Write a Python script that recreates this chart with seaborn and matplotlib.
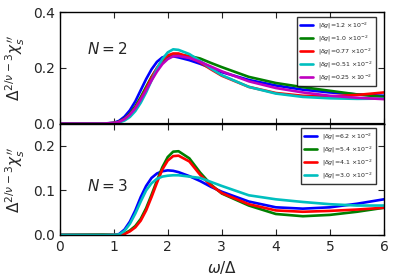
import matplotlib
matplotlib.use("Agg")
import matplotlib.pyplot as plt
import seaborn as sns
import numpy as np
import pandas as pd

# ----------- Data -----------
omega = [0.0, 0.8, 1.0, 1.1, 1.2, 1.3, 1.4, 1.5, 1.6, 1.7, 1.8, 1.9, 2.0,
         2.1, 2.2, 2.4, 2.6, 2.8, 3.0, 3.5, 4.0, 4.5, 5.0, 5.5, 6.0]

# N = 2 panel
labels_n2 = [r'$|\delta g|$=1.2 $\times10^{-2}$', r'$|\delta g|$=1.0 $\times10^{-2}$',
             r'$|\delta g|$=0.77 $\times10^{-2}$', r'$|\delta g|$=0.51 $\times10^{-2}$',
             r'$|\delta g|$=0.25 $\times10^{-2}$']
chi_n2_12 = [0, 0, 0.003, 0.010, 0.025, 0.048, 0.080, 0.120, 0.160, 0.195, 0.222, 0.238, 0.243,
             0.242, 0.238, 0.228, 0.215, 0.200, 0.185, 0.157, 0.137, 0.122, 0.112, 0.105, 0.100]
chi_n2_10 = [0, 0, 0.002, 0.007, 0.018, 0.036, 0.062, 0.095, 0.132, 0.168, 0.198, 0.222, 0.237,
             0.244, 0.246, 0.243, 0.234, 0.218, 0.203, 0.168, 0.146, 0.131, 0.118, 0.105, 0.096]
chi_n2_077 = [0, 0, 0.002, 0.006, 0.016, 0.032, 0.056, 0.088, 0.125, 0.165, 0.200, 0.228, 0.245,
              0.252, 0.252, 0.240, 0.220, 0.195, 0.172, 0.132, 0.110, 0.100, 0.098, 0.103, 0.112]
chi_n2_051 = [0, 0, 0.001, 0.004, 0.011, 0.024, 0.045, 0.075, 0.112, 0.155, 0.197, 0.232, 0.256,
              0.267, 0.265, 0.250, 0.225, 0.198, 0.174, 0.132, 0.108, 0.096, 0.091, 0.089, 0.090]
chi_n2_025 = [0, 0, 0.002, 0.006, 0.016, 0.032, 0.055, 0.086, 0.120, 0.155, 0.187, 0.214, 0.232,
              0.242, 0.243, 0.236, 0.222, 0.205, 0.188, 0.152, 0.128, 0.112, 0.100, 0.093, 0.088]

# N = 3 panel
labels_n3 = [r'$|\delta g|$=6.2 $\times10^{-2}$', r'$|\delta g|$=5.4 $\times10^{-2}$',
             r'$|\delta g|$=4.1 $\times10^{-2}$', r'$|\delta g|$=3.0 $\times10^{-2}$']
chi_n3_62 = [0, 0, 0, 0.002, 0.012, 0.030, 0.055, 0.085, 0.110, 0.128, 0.138, 0.143, 0.145,
             0.144, 0.141, 0.132, 0.121, 0.108, 0.097, 0.075, 0.062, 0.059, 0.062, 0.070, 0.080]
chi_n3_54 = [0, 0.001, 0, 0, 0.003, 0.010, 0.020, 0.036, 0.060, 0.090, 0.122, 0.152, 0.175,
             0.187, 0.188, 0.172, 0.140, 0.113, 0.093, 0.066, 0.047, 0.042, 0.045, 0.052, 0.061]
chi_n3_41 = [0, 0, 0, 0, 0.002, 0.008, 0.017, 0.032, 0.055, 0.085, 0.117, 0.147, 0.167,
             0.177, 0.178, 0.165, 0.135, 0.111, 0.094, 0.069, 0.055, 0.052, 0.054, 0.057, 0.061]
chi_n3_30 = [0, 0, 0, 0.001, 0.009, 0.025, 0.048, 0.075, 0.100, 0.116, 0.126, 0.131, 0.133,
             0.134, 0.134, 0.131, 0.128, 0.119, 0.110, 0.089, 0.080, 0.074, 0.069, 0.066, 0.066]

colors_n2 = ['#0000ff', '#008000', '#ff0000', '#00bfbf', '#bf00bf']
colors_n3 = ['#0000ff', '#008000', '#ff0000', '#00bfbf']


def long_table(series, labels):
    frames = []
    for vals, lab in zip(series, labels):
        frames.append(pd.DataFrame({'omega': omega, 'chi': vals, 'dg': lab}))
    return pd.concat(frames, ignore_index=True)


df2 = long_table([chi_n2_12, chi_n2_10, chi_n2_077, chi_n2_051, chi_n2_025], labels_n2)
df3 = long_table([chi_n3_62, chi_n3_54, chi_n3_41, chi_n3_30], labels_n3)

# ----------- Plot -----------
sns.set_style("ticks")
plt.rcParams.update({
    'xtick.direction': 'in', 'ytick.direction': 'in',
    'xtick.top': True, 'ytick.right': True,
    'axes.edgecolor': 'black', 'axes.linewidth': 1.0,
})
plt.rcParams['font.family'] = ['DejaVu Sans']

fig, (ax1, ax2) = plt.subplots(2, 1, figsize=(3.95, 2.8), dpi=100, sharex=True)
fig.subplots_adjust(left=0.151, right=0.972, top=0.956, bottom=0.161, hspace=0)

ylab = r'$\Delta^{2/\nu-3}\chi_s^{\,\prime\prime}$'

ax1.axhline(0, color='black', linewidth=1.6, zorder=3)
sns.lineplot(data=df2, x='omega', y='chi', hue='dg', palette=colors_n2,
             linewidth=1.9, ax=ax1)
ax1.set_xlim(0, 6)
ax1.set_ylim(0, 0.4)
ax1.set_yticks([0.0, 0.2, 0.4])
ax1.set_ylabel(ylab, fontsize=11)
ax1.set_xlabel('')
ax1.text(0.5, 0.268, r'$N=2$', fontsize=11, va='center')
leg1 = ax1.legend(loc='upper right', fontsize=4.5, frameon=True, fancybox=False,
                  handlelength=2.2, borderpad=0.5, labelspacing=0.45,
                  bbox_to_anchor=(0.985, 0.985))
leg1.get_frame().set_edgecolor('black')
leg1.get_frame().set_linewidth(1.0)

sns.lineplot(data=df3, x='omega', y='chi', hue='dg', palette=colors_n3,
             linewidth=1.9, ax=ax2)
ax2.set_xlim(0, 6)
ax2.set_ylim(0, 0.25)
ax2.set_yticks([0.0, 0.1, 0.2])
ax2.set_xticks([0, 1, 2, 3, 4, 5, 6])
ax2.set_ylabel(ylab, fontsize=11)
ax2.set_xlabel(r'$\omega/\Delta$', fontsize=11)
ax2.text(0.5, 0.109, r'$N=3$', fontsize=11, va='center')
leg2 = ax2.legend(loc='upper right', fontsize=4.5, frameon=True, fancybox=False,
                  handlelength=2.2, borderpad=0.5, labelspacing=0.45,
                  bbox_to_anchor=(0.985, 0.985))
leg2.get_frame().set_edgecolor('black')
leg2.get_frame().set_linewidth(1.0)

for ax in (ax1, ax2):
    ax.tick_params(labelsize=10, length=4, width=0.8)
    ax.yaxis.set_label_coords(-0.1, 0.5)

plt.savefig('out.png', dpi=100)
